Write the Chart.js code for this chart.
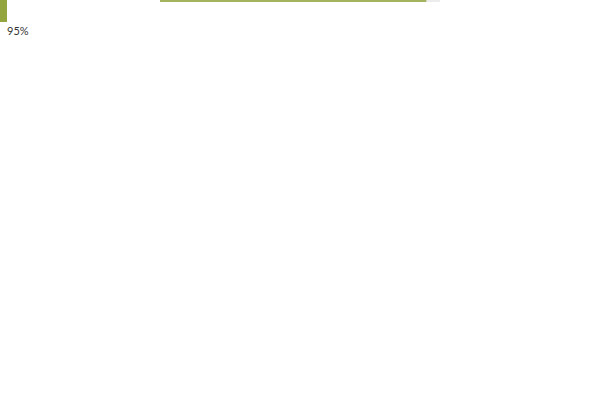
<!DOCTYPE html>
<html>
<head>
<meta charset="utf-8">
<script src="https://cdn.jsdelivr.net/npm/chart.js@4"></script>
<style>
html,body{margin:0;padding:0;background:#fff;width:600px;height:400px;overflow:hidden;}
#wrapBar{position:absolute;left:160px;top:0;width:280px;height:2px;}
#wrapCol{position:absolute;left:0;top:0;width:7px;height:22px;}
#label{position:absolute;left:7px;top:24px;font-family:Lato,"Open Sans",sans-serif;font-size:11px;color:#333;}
</style>
</head>
<body>
<div id="wrapBar"><canvas id="bar"></canvas></div>
<div id="wrapCol"><canvas id="col"></canvas></div>
<div id="label"></div>
<script>
const categories = ["Progress"];
const doneValues = [95];
const restValues = [5];
const maxValue = 100;
const labelText = doneValues[0] + "%";

const GREEN = "#93a53e";
const LINE_GREEN = "#a3b35e";
const GREY = "#ececec";

document.getElementById("label").textContent = labelText;

const common = {
  responsive: true,
  maintainAspectRatio: false,
  animation: false,
  events: [],
  layout: {padding: 0},
  plugins: {legend: {display: false}, tooltip: {enabled: false}},
};

new Chart(document.getElementById("bar"), {
  type: "bar",
  data: {
    labels: categories,
    datasets: [
      {data: doneValues, backgroundColor: LINE_GREEN, borderWidth: 0, barPercentage: 1, categoryPercentage: 1},
      {data: restValues, backgroundColor: GREY, borderWidth: 0, barPercentage: 1, categoryPercentage: 1}
    ]
  },
  options: Object.assign({}, common, {
    indexAxis: "y",
    scales: {
      x: {stacked: true, min: 0, max: maxValue, display: false},
      y: {stacked: true, display: false}
    }
  })
});

new Chart(document.getElementById("col"), {
  type: "bar",
  data: {
    labels: categories,
    datasets: [
      {data: [maxValue], backgroundColor: GREEN, borderWidth: 0, barPercentage: 1, categoryPercentage: 1}
    ]
  },
  options: Object.assign({}, common, {
    scales: {
      x: {display: false},
      y: {min: 0, max: maxValue, display: false}
    }
  })
});
</script>
</body>
</html>
